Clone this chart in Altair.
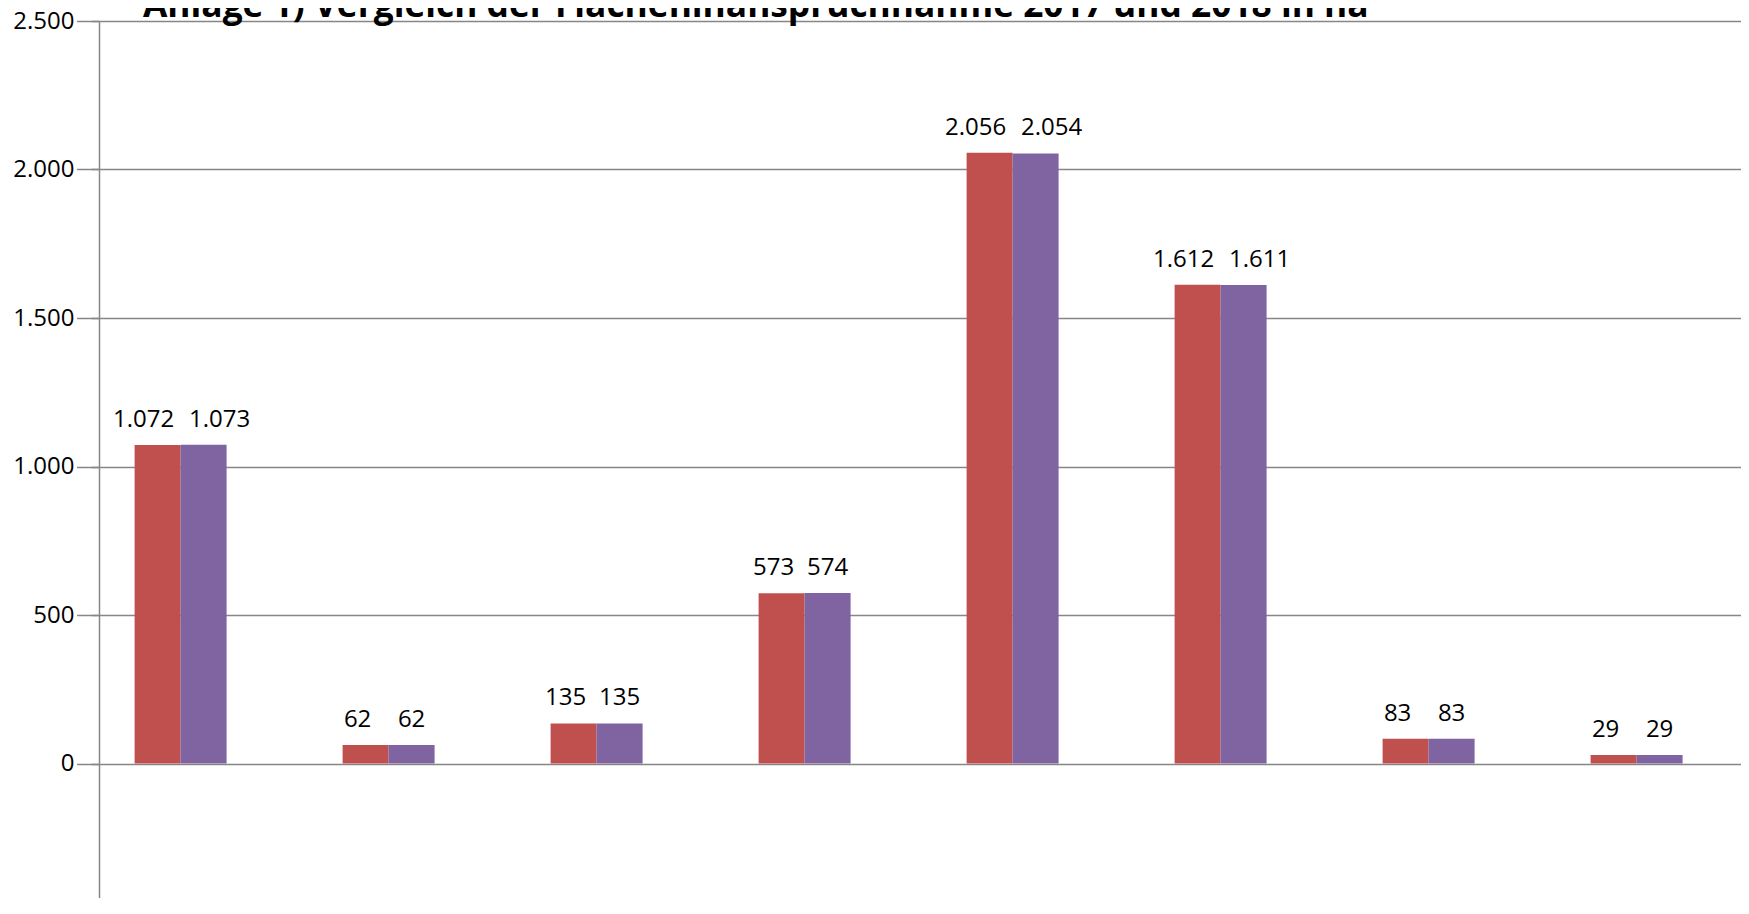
import altair as alt
import pandas as pd

# ---- data ----
categories = ["1", "2", "3", "4", "5", "6", "7", "8"]
series = ["2017", "2018"]
values_2017 = [1072, 62, 135, 573, 2056, 1612, 83, 29]
values_2018 = [1073, 62, 135, 574, 2054, 1611, 83, 29]
y_ticks = [-500, 0, 500, 1000, 1500, 2000, 2500]
title_text = "Anlage 1) Vergleich der Flächeninanspruchnahme 2017 und 2018 in ha"

rows = []
for c, a, b in zip(categories, values_2017, values_2018):
    rows.append({"Kategorie": c, "Jahr": series[0], "ha": a})
    rows.append({"Kategorie": c, "Jahr": series[1], "ha": b})
df = pd.DataFrame(rows)

# ---- layout ----
PLOT_W = 1642
PLOT_H = 891
STEP = 208
X0 = -22.4
GRID = "#868686"
FONT = "Open Sans"
LABEL_SIZE = 24

x_enc = alt.X(
    "Kategorie:N",
    sort=categories,
    scale=alt.Scale(range=[X0, X0 + 8 * STEP], paddingInner=0.5577, paddingOuter=0.27885),
    axis=alt.Axis(labels=False, ticks=False, title=None, domain=False),
)
xoff_enc = alt.XOffset("Jahr:N", sort=series, scale=alt.Scale(paddingInner=0, paddingOuter=0))
y_enc = alt.Y(
    "ha:Q",
    scale=alt.Scale(domain=[-500, 2500], nice=False, zero=False),
    axis=alt.Axis(
        values=y_ticks,
        format=",.0f",
        title=None,
        grid=True,
        gridColor=GRID,
        gridWidth=1.5,
        domainColor=GRID,
        domainWidth=1.5,
        tickColor=GRID,
        tickWidth=1.5,
        tickSize=8,
        labelFont=FONT,
        labelFontSize=LABEL_SIZE,
        labelColor="#000000",
        labelPadding=17,
    ),
)

base = alt.Chart(df)

bars = base.mark_bar().encode(
    x=x_enc,
    xOffset=xoff_enc,
    y=y_enc,
    y2=alt.datum(0),
    color=alt.Color(
        "Jahr:N",
        scale=alt.Scale(domain=series, range=["#C0504D", "#8064A2"]),
        legend=None,
    ),
)


def labels(year, wide, dx):
    cond = (alt.datum.Jahr == year) & ((alt.datum.ha >= 1000) if wide else (alt.datum.ha < 1000))
    return (
        base.transform_filter(cond)
        .mark_text(
            baseline="alphabetic",
            align="center",
            dy=-18,
            dx=dx,
            font=FONT,
            fontSize=LABEL_SIZE,
            color="#000000",
        )
        .encode(
            x=x_enc,
            xOffset=xoff_enc,
            y=y_enc,
            text=alt.Text("ha:Q", format=",.0f"),
        )
    )


title = (
    alt.Chart(pd.DataFrame({"t": [title_text]}))
    .mark_text(
        align="left",
        baseline="alphabetic",
        font=FONT,
        fontSize=35.3,
        fontWeight="bold",
        color="#000000",
    )
    .encode(text="t:N", x=alt.value(44), y=alt.value(-4.5))
)

chart = (
    alt.layer(
        bars,
        labels("2017", True, -14),
        labels("2017", False, -8),
        labels("2018", True, 16),
        labels("2018", False, 0),
        title,
    )
    .properties(
        width=PLOT_W,
        height=PLOT_H,
        autosize=alt.AutoSizeParams(type="none"),
        padding={"left": 91, "top": 13, "right": 0, "bottom": -14},
    )
    .configure_view(stroke=None)
    .configure(
        locale={
            "number": {
                "decimal": ",",
                "thousands": ".",
                "grouping": [3],
                "currency": ["", " €"],
                "minus": "-",
            }
        }
    )
)

chart.save("out.html", embed_options={"renderer": "svg", "actions": False})
